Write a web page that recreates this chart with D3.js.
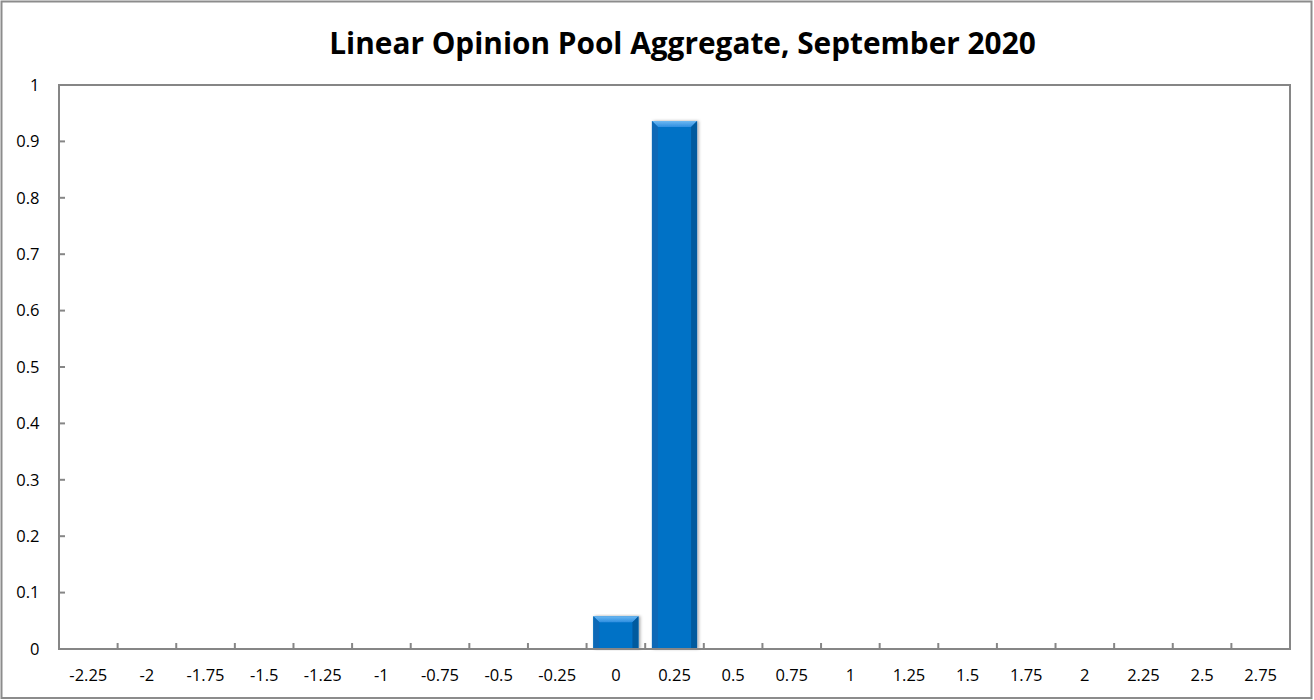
<!DOCTYPE html>
<html><head><meta charset="utf-8">
<script src="https://cdn.jsdelivr.net/npm/d3@7"></script>
<style>body{margin:0;background:#fff}svg{display:block}</style>
</head><body>
<script>
const categories = ["-2.25","-2","-1.75","-1.5","-1.25","-1","-0.75","-0.5","-0.25","0","0.25","0.5","0.75","1","1.25","1.5","1.75","2","2.25","2.5","2.75"];
const values = [0,0,0,0,0,0,0,0,0,0.058,0.936,0,0,0,0,0,0,0,0,0,0];
const yTicks = [0,0.1,0.2,0.3,0.4,0.5,0.6,0.7,0.8,0.9,1];
const title = "Linear Opinion Pool Aggregate, September 2020";

const W = 1314, H = 700;
const m = {left:59, right:1290, top:85, bottom:649};
const FONT = "'Open Sans', 'Liberation Sans', sans-serif";
const svg = d3.select("body").append("svg").attr("width",W).attr("height",H);
const defs = svg.append("defs");
const f = defs.append("filter").attr("id","sh").attr("x","-20%").attr("y","-5%").attr("width","140%").attr("height","110%");
f.append("feDropShadow").attr("dx",1.5).attr("dy",0).attr("stdDeviation",1.5).attr("flood-color","#000").attr("flood-opacity",0.35);
const tg = defs.append("linearGradient").attr("id","topg").attr("x1",0).attr("y1",0).attr("x2",0).attr("y2",1);
tg.append("stop").attr("offset","0%").attr("stop-color","#6cb8f2");
tg.append("stop").attr("offset","100%").attr("stop-color","#2e8ee0");

svg.append("rect").attr("x",1.5).attr("y",1.5).attr("width",W-4).attr("height",H-3.5)
  .attr("fill","#fff").attr("stroke","#8c8c8c").attr("stroke-width",2);

const x = d3.scaleBand().domain(categories).range([m.left,m.right]).paddingInner(0.23).paddingOuter(0.115);
const xb = d3.scaleBand().domain(categories).range([m.left,m.right]);
const y = d3.scaleLinear().domain([0,1]).range([m.bottom,m.top]);

svg.append("text").attr("x",682.5).attr("y",54).attr("text-anchor","middle")
  .attr("font-family",FONT).attr("font-weight","bold")
  .attr("font-size",29.8).attr("fill","#000").text(title);

// bars
const bars = svg.append("g");
categories.forEach((c,i)=>{
  const v = values[i];
  if (!v) return;
  const x0 = x(c), x1 = x0 + x.bandwidth(), y0 = y(v), y1 = y(0);
  const b = 6;
  const g = bars.append("g").attr("filter","url(#sh)");
  g.append("rect").attr("x",x0).attr("y",y0).attr("width",x1-x0).attr("height",y1-y0).attr("fill","#0672c6");
  g.append("polygon").attr("points",`${x0},${y0} ${x1},${y0} ${x1-b},${y0+b} ${x0+b},${y0+b}`).attr("fill","url(#topg)");
  g.append("polygon").attr("points",`${x0},${y0} ${x0+b},${y0+b} ${x0+b},${y1} ${x0},${y1}`).attr("fill","#0868b6");
  g.append("polygon").attr("points",`${x1},${y0} ${x1-b},${y0+b} ${x1-b},${y1} ${x1},${y1}`).attr("fill","#045a9e");
});

// plot border
svg.append("rect").attr("x",m.left).attr("y",m.top).attr("width",m.right-m.left).attr("height",m.bottom-m.top)
  .attr("fill","none").attr("stroke","#868686").attr("stroke-width",2);

// y ticks
const yAxis = svg.append("g");
yTicks.forEach(t=>{
  yAxis.append("line").attr("x1",m.left).attr("x2",m.left+6).attr("y1",y(t)).attr("y2",y(t)).attr("stroke","#868686").attr("stroke-width",2);
  yAxis.append("text").attr("x",39.5).attr("y",y(t)+5.8).attr("text-anchor","end")
    .attr("font-family",FONT).attr("font-size",16.5).attr("fill","#000").text(t);
});
// x ticks
const xAxis = svg.append("g");
categories.forEach((c,i)=>{
  if (i>0) xAxis.append("line").attr("x1",xb(c)).attr("x2",xb(c)).attr("y1",m.bottom).attr("y2",m.bottom-6).attr("stroke","#868686").attr("stroke-width",2);
  xAxis.append("text").attr("x",xb(c)+xb.bandwidth()/2).attr("y",681).attr("text-anchor","middle")
    .attr("font-family",FONT).attr("font-size",16.5).attr("fill","#000").text(c);
});
</script>
</body></html>
